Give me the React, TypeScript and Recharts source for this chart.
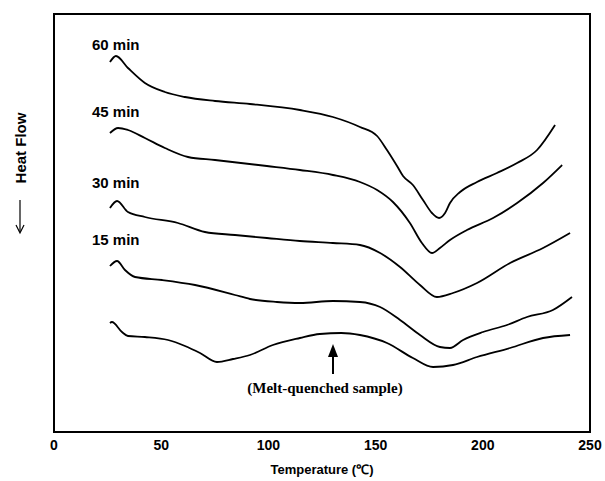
import React from 'react';
import { LineChart, Line, XAxis, YAxis, ReferenceArea } from 'recharts';

// Temperature (°C) and heat flow (arbitrary units, offset per curve)
const t60 = [26.1, 28.9, 34.5, 42.4, 51.7, 61.1, 75.1, 91.4, 114.7, 130.1, 142.7, 150.7, 155.3, 160.0, 162.8, 167.4, 172.1, 176.3, 179.6, 182.4, 184.7, 189.4, 197.3, 206.6, 216.0, 225.3, 233.7];
const v60 = [370, 376, 364, 349, 340, 335, 331, 328, 322, 315, 305, 296, 282, 266, 256, 247, 232, 219, 214, 219, 229, 240, 250, 259, 269, 282, 307];

const t45 = [26.1, 29.9, 34.5, 42.4, 51.7, 62.5, 75.1, 99.3, 114.7, 130.1, 142.7, 150.7, 158.1, 166.0, 171.6, 176.3, 180.0, 184.7, 192.6, 204.8, 216.0, 228.1, 237.0];
const v45 = [299, 304, 302, 294, 284, 275, 272, 266, 262, 257, 250, 242, 230, 209, 189, 179, 184, 192, 202, 214, 229, 249, 267];

const t30 = [26.1, 29.4, 34.5, 42.4, 57.8, 70.4, 84.4, 99.3, 114.7, 130.1, 142.7, 152.1, 161.4, 170.7, 178.6, 186.1, 197.3, 212.7, 228.1, 240.7];
const v30 = [224, 231, 220, 215, 209, 200, 197, 194, 191, 189, 187, 179, 165, 147, 135, 139, 149, 169, 184, 199];

const t15 = [26.1, 29.4, 33.1, 37.8, 50.4, 65.8, 84.4, 91.4, 104.0, 114.7, 130.1, 142.7, 152.1, 161.4, 170.7, 180.0, 184.7, 190.8, 200.1, 211.3, 220.6, 232.7, 241.6];
const v15 = [166, 171, 162, 155, 152, 147, 137, 133, 130, 129, 131, 130, 125, 112, 97, 85, 84, 92, 100, 107, 115, 122, 135];

const tMQ = [26.1, 27.0, 31.7, 34.5, 42.4, 53.2, 61.1, 68.1, 76.0, 83.5, 91.4, 102.1, 114.7, 124.0, 134.0, 142.7, 155.3, 167.4, 176.8, 186.1, 197.3, 212.7, 228.1, 240.7];
const vMQ = [109, 110, 100, 96, 95, 92, 86, 79, 70, 73, 77, 87, 94, 98, 99, 97, 89, 74, 65, 67, 75, 84, 94, 97];

const xTicks = [0, 50, 100, 150, 200, 250];
const curveLabels = ['60 min', '45 min', '30 min', '15 min'];

const zip = (t: number[], v: number[]) => t.map((x, i) => ({ t: x, v: v[i] }));

const series = [
  { name: '60 min', data: zip(t60, v60) },
  { name: '45 min', data: zip(t45, v45) },
  { name: '30 min', data: zip(t30, v30) },
  { name: '15 min', data: zip(t15, v15) },
  { name: 'Melt-quenched', data: zip(tMQ, vMQ) },
];

const sans = '"Liberation Sans", Arial, sans-serif';
const frame = { stroke: '#000', strokeWidth: 2 };

export default function App() {
  const labelY = [50, 117, 188, 245];
  return (
    <div style={{ position: 'absolute', left: 0, top: 0, width: 605, height: 481, background: '#fff' }}>
      <LineChart width={605} height={481} margin={{ top: 14, right: 15, bottom: 0, left: 54 }}>
        <XAxis
          dataKey="t"
          type="number"
          domain={[0, 250]}
          ticks={xTicks}
          height={49}
          tickLine={false}
          axisLine={frame}
          tick={{ fill: '#000', fontSize: 14, fontWeight: 'bold', fontFamily: sans }}
          label={{ value: 'Temperature (℃)', position: 'insideBottom', offset: 7, fill: '#000', fontSize: 13, fontWeight: 'bold', fontFamily: sans }}
        />
        <YAxis type="number" domain={[0, 418]} hide />
        <ReferenceArea x1={0} x2={250} y1={0} y2={418} fill="none" stroke="#000" strokeWidth={2} ifOverflow="visible" />
        {series.map((s) => (
          <Line
            key={s.name}
            data={s.data}
            dataKey="v"
            type="monotone"
            stroke="#000"
            strokeWidth={1.8}
            dot={false}
            isAnimationActive={false}
          />
        ))}
      </LineChart>
      <svg width={605} height={481} style={{ position: 'absolute', left: 0, top: 0, pointerEvents: 'none' }}>
        {curveLabels.map((l, i) => (
          <text key={l} x={92} y={labelY[i]} fontSize={15} fontWeight="bold" fontFamily={sans} fill="#000">
            {l}
          </text>
        ))}
        <text x={20} y={148} transform="rotate(-90 20 148)" textAnchor="middle" dominantBaseline="central" fontSize={15} fontWeight="bold" fontFamily={sans} fill="#000">
          Heat Flow
        </text>
        <line x1={20} y1={200} x2={20} y2={232} stroke="#000" strokeWidth={1.2} />
        <polyline points="16,225 20,233 24,225" fill="none" stroke="#000" strokeWidth={1.2} />
        <line x1={333} y1={352} x2={333} y2={374} stroke="#000" strokeWidth={2} />
        <polygon points="333,344 328,357 338,357" fill="#000" />
        <text x={325} y={393} textAnchor="middle" fontSize={15} fontWeight="bold" fontFamily='"Liberation Serif", "Times New Roman", serif' fill="#000">
          (Melt-quenched sample)
        </text>
      </svg>
    </div>
  );
}
